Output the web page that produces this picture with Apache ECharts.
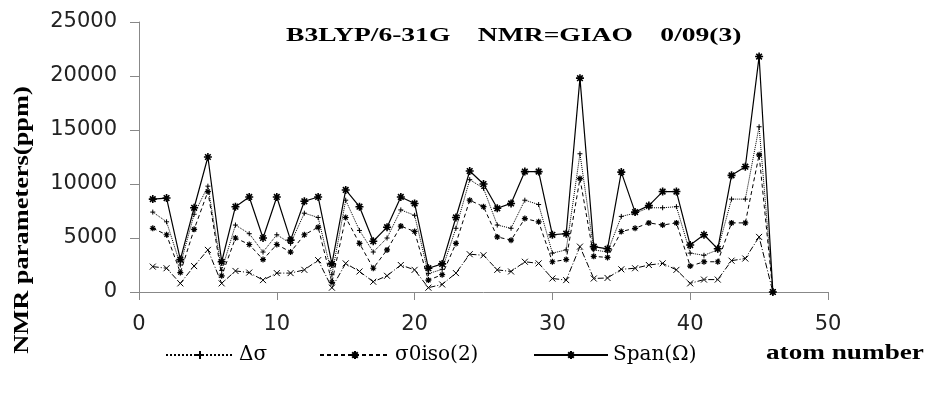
<!DOCTYPE html>
<html>
<head>
<meta charset="utf-8">
<script src="https://cdn.jsdelivr.net/npm/echarts@6/dist/echarts.min.js"></script>
<style>
  html, body { margin: 0; padding: 0; background: #fff; }
  #chart { width: 928px; height: 393px; }
</style>
</head>
<body>
<div id="chart"></div>
<script>
// atom number 1..46
const atoms = [1, 2, 3, 4, 5, 6, 7, 8, 9, 10, 11, 12, 13, 14, 15, 16, 17, 18, 19, 20, 21, 22, 23,
  24, 25, 26, 27, 28, 29, 30, 31, 32, 33, 34, 35, 36, 37, 38, 39, 40, 41, 42, 43, 44, 45, 46]

const deltaSigma = [7400, 6500, 2500, 7200, 9800, 2000, 6200, 5400, 3700, 5300, 4500, 7300, 6900,
  1600, 8500, 5700, 3700, 5000, 7600, 7100, 1700, 2100, 5900, 10400, 9600, 6200, 5900, 8500, 8100,
  3600, 3900, 12800, 3900, 3700, 7000, 7300, 7800, 7800, 7900, 3600, 3400, 3900, 8600, 8600, 15300, 0]

const sigmaIso = [5900, 5300, 1800, 5800, 9300, 1500, 5000, 4400, 3000, 4400, 3700, 5300, 6000,
  900, 6900, 4500, 2200, 3900, 6100, 5600, 1100, 1600, 4500, 8500, 7900, 5100, 4800, 6800, 6500,
  2800, 3000, 10500, 3300, 3200, 5600, 5900, 6400, 6200, 6400, 2400, 2800, 2800, 6400, 6400, 12700, 0]

const span = [8600, 8700, 3000, 7800, 12500, 2800, 7900, 8800, 5000, 8800, 4800, 8400, 8800,
  2600, 9450, 7900, 4700, 6000, 8800, 8200, 2200, 2600, 6900, 11200, 10000, 7750, 8200, 11150, 11150,
  5300, 5400, 19800, 4200, 4000, 11100, 7400, 8000, 9300, 9300, 4350, 5300, 4000, 10800, 11600, 21800, 0]

// lowest curve (no legend entry in the original)
const lowCurve = [2350, 2200, 800, 2400, 3900, 800, 1950, 1800, 1100, 1750, 1750, 2050, 2950,
  400, 2650, 1900, 950, 1500, 2500, 2050, 400, 700, 1750, 3500, 3400, 2050, 1900, 2800, 2650,
  1250, 1100, 4200, 1250, 1300, 2100, 2200, 2500, 2650, 2050, 800, 1150, 1150, 2900, 3100, 5100, 0]

const yTicks = [0, 5000, 10000, 15000, 20000, 25000]

const pair = arr => atoms.map((a, i) => [a, arr[i]])

// 符号
const plusSym = 'path://M5,0L5,10M0,5L10,5'
const starSym = 'path://M5,0L5,10M0,5L10,5M1.5,1.5L8.5,8.5M1.5,8.5L8.5,1.5'
const crossSym = 'path://M0,0L10,10M0,10L10,0'

const chart = echarts.init(document.getElementById('chart'))

const legendBase = {
  top: 340,
  itemHeight: 10,
  textStyle: { fontFamily: 'DejaVu Serif', fontSize: 20, color: '#000' }
}

const option = {
  animation: false,
  backgroundColor: '#fff',
  grid: { left: 139, right: 100, top: 22, bottom: 101 },
  legend: [
    Object.assign({}, legendBase, { left: 160, itemWidth: 68, data: ['Δσ'] }),
    Object.assign({}, legendBase, { left: 314, itemWidth: 70, data: ['σ0iso(2)'] }),
    Object.assign({}, legendBase, { left: 528, itemWidth: 74, data: ['Span(Ω)'] })
  ],
  xAxis: {
    type: 'value',
    min: 0,
    max: 50,
    interval: 10,
    splitLine: { show: false },
    axisLine: { lineStyle: { color: '#888' } },
    axisTick: { show: true, length: 8, lineStyle: { color: '#888' } },
    axisLabel: { margin: 22, fontFamily: 'DejaVu Sans', fontSize: 21, color: '#222' }
  },
  yAxis: {
    type: 'value',
    min: yTicks[0],
    max: yTicks[yTicks.length - 1],
    interval: 5000,
    splitLine: { show: false },
    axisLine: { show: true, lineStyle: { color: '#888' } },
    axisTick: { show: true, length: 9, lineStyle: { color: '#888' } },
    axisLabel: {
      margin: 22, fontFamily: 'DejaVu Sans', fontSize: 21, color: '#222',
      formatter: v => String(v)
    }
  },
  graphic: [
    {
      type: 'text', x: 286, y: 36, scaleX: 1.45,
      style: {
        text: 'B3LYP/6-31G    NMR=GIAO    0/09(3)',
        font: 'bold 19px "Liberation Serif"', fill: '#000',
        textAlign: 'left', textVerticalAlign: 'middle'
      }
    },
    {
      type: 'text', x: 22, y: 220, rotation: Math.PI / 2, scaleX: 1.2,
      style: {
        text: 'NMR parameters(ppm)',
        font: 'bold 22px "Liberation Serif"', fill: '#000',
        textAlign: 'center', textVerticalAlign: 'middle'
      }
    },
    {
      type: 'text', x: 766, y: 354, scaleX: 1.36,
      style: {
        text: 'atom number',
        font: 'bold 20px "Liberation Serif"', fill: '#000',
        textAlign: 'left', textVerticalAlign: 'middle'
      }
    }
  ],
  series: [
    {
      name: 'Δσ',
      type: 'line',
      data: pair(deltaSigma),
      symbol: plusSym,
      symbolSize: 5,
      showAllSymbol: true,
      itemStyle: { color: '#000', borderColor: '#000', borderWidth: 1 },
      lineStyle: { color: '#000', width: 1, type: 'dotted' },
      z: 3
    },
    {
      name: 'σ0iso(2)',
      type: 'line',
      data: pair(sigmaIso),
      symbol: starSym,
      symbolSize: 6,
      showAllSymbol: true,
      itemStyle: { color: '#000', borderColor: '#000', borderWidth: 1.2 },
      lineStyle: { color: '#000', width: 1, type: [4, 3] },
      z: 3
    },
    {
      name: 'Span(Ω)',
      type: 'line',
      data: pair(span),
      symbol: starSym,
      symbolSize: 8,
      showAllSymbol: true,
      itemStyle: { color: '#000', borderColor: '#000', borderWidth: 1.6 },
      lineStyle: { color: '#000', width: 1.2, type: 'solid' },
      z: 4
    },
    {
      type: 'line',
      data: pair(lowCurve),
      symbol: crossSym,
      symbolSize: 6,
      showAllSymbol: true,
      itemStyle: { color: '#000', borderColor: '#000', borderWidth: 1 },
      lineStyle: { color: '#000', width: 1, type: [6, 2, 1, 2] },
      z: 2
    }
  ]
}

chart.setOption(option)
</script>
</body>
</html>
